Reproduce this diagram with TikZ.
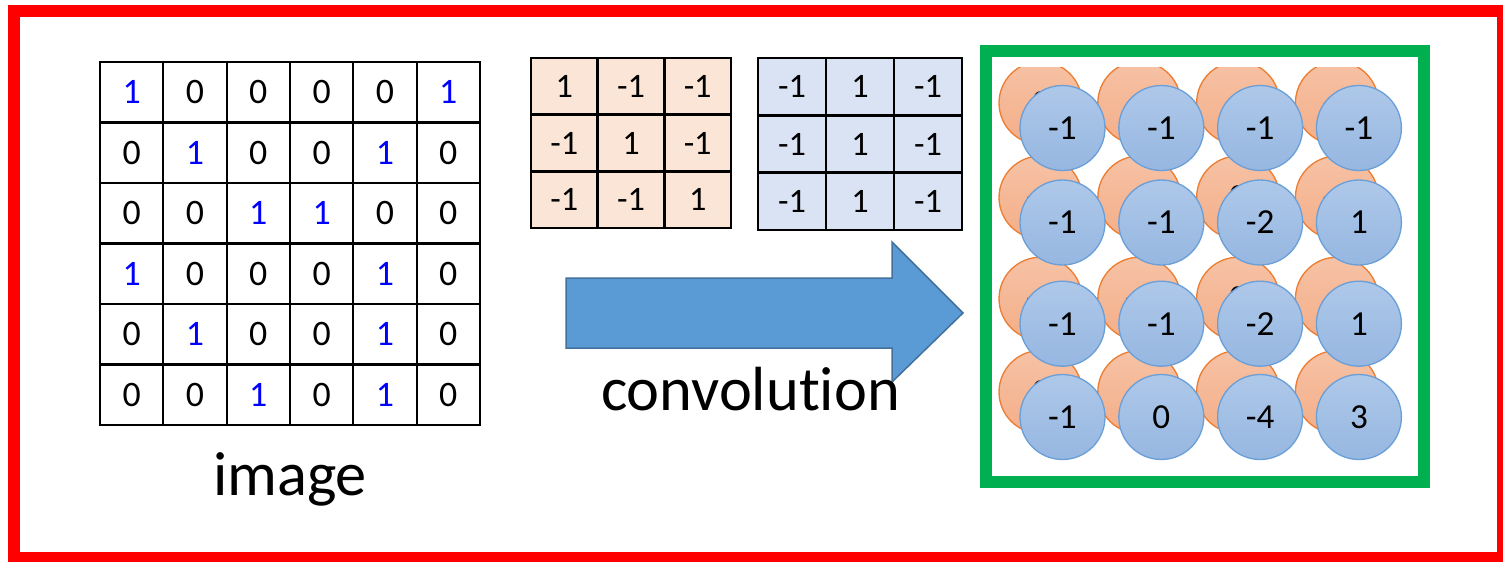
\documentclass[tikz,border=0pt]{standalone}
\usepackage{fontspec}
\setmainfont{Carlito}[Ligatures=NoCommon]

\definecolor{framered}{HTML}{FF0000}
\definecolor{framegreen}{HTML}{00B050}
\definecolor{filterA}{HTML}{FBE5D6}
\definecolor{filterB}{HTML}{DAE3F3}
\definecolor{arrowfill}{HTML}{5B9BD5}
\definecolor{arrowline}{HTML}{41719C}
\definecolor{orangetop}{HTML}{F6C2A5}
\definecolor{orangebot}{HTML}{F4AE88}
\definecolor{orangeline}{HTML}{ED7D31}
\definecolor{bluetop}{HTML}{AEC8E9}
\definecolor{bluebot}{HTML}{96B7E1}
\definecolor{blueline}{HTML}{6A9FD8}

\begin{document}
\begin{tikzpicture}[x=0.02cm, y=-0.02cm,
    imgcell/.style={draw, line width=1.3pt, minimum width=1.2667cm, minimum height=1.21cm,
        inner sep=0pt, outer sep=0pt, font=\fontsize{20.4}{24}\selectfont},
    filtcell/.style={draw, line width=1.6pt, inner sep=0pt, outer sep=0pt,
        font=\fontsize{19.5}{23}\selectfont},
    featA/.style={circle, draw=orangeline, line width=0.75pt, top color=orangetop,
        bottom color=orangebot, minimum size=1.66cm, inner sep=0pt,
        font=\fontsize{20}{24}\selectfont},
    featB/.style={circle, draw=blueline, line width=0.75pt, top color=bluetop,
        bottom color=bluebot, minimum size=1.7cm, inner sep=0pt,
        font=\fontsize{20}{24}\selectfont},
    biglabel/.style={font=\fontsize{35.5}{40}\selectfont, inner sep=0pt}]

    \useasboundingbox (0,0) rectangle (1503,561);

    % Draw the red frame
    \draw[framered, line width=0.24cm] (14,11) rectangle (1503,558);

    % Define the image grid size
    \def\imgw{63.33} % Width of each cell
    \def\imgh{60.5}  % Height of each cell

    % Draw the 6x6 image
    \foreach \row [count=\r] in {{1,0,0,0,0,1},{0,1,0,0,1,0},{0,0,1,1,0,0},
                                 {1,0,0,0,1,0},{0,1,0,0,1,0},{0,0,1,0,1,0}} {
        \foreach \v [count=\c] in \row {
            \def\digitcolor{black}
            \ifnum\v=1 \def\digitcolor{blue}\fi
            \node[imgcell, text=\digitcolor] (img-\r-\c)
                at ({100 + (\c - 0.5) * \imgw}, {62 + (\r - 0.5) * \imgh}) {\v};
        }
    }
    \node[biglabel, anchor=base] (imagelabel) at (290,495) {image};

    % Draw filter 1
    \foreach \row [count=\r] in {{1,-1,-1},{-1,1,-1},{-1,-1,1}} {
        \foreach \v [count=\c] in \row {
            \node[filtcell, fill=filterA, minimum width=1.3333cm, minimum height=1.1333cm] (fa-\r-\c)
                at ({531 + (\c - 0.5) * 66.67}, {58 + (\r - 0.5) * 56.67}) {\v};
        }
    }

    % Draw filter 2
    \foreach \row [count=\r] in {{-1,1,-1},{-1,1,-1},{-1,1,-1}} {
        \foreach \v [count=\c] in \row {
            \node[filtcell, fill=filterB, minimum width=1.36cm, minimum height=1.146cm] (fb-\r-\c)
                at ({758 + (\c - 0.5) * 68}, {58 + (\r - 0.5) * 57.33}) {\v};
        }
    }

    % Draw the block arrow
    \draw[arrowline, fill=arrowfill, line width=0.85pt, line join=miter]
        (566,278) -- (892,278) -- (892,242) -- (963,313) -- (892,382)
        -- (892,348) -- (566,348) -- cycle;
    \node[biglabel, anchor=base] (convlabel) at (750.5,410) {convolution};

    % Draw the green frame
    \draw[framegreen, line width=0.24cm] (986,51) rectangle (1424,482);

    % Feature map of filter 1 (behind)
    \begin{scope}
        \clip (980,67) rectangle (1430,480);
        \foreach \row/\by [count=\r] in {{3,-1,-3,-1}/128,{-3,1,0,-3}/222.5,
                                         {-3,-3,0,1}/323.7,{3,-2,-2,-1}/417} {
            \foreach \v [count=\c] in \row {
                \node[featA] (ma-\r-\c) at ({1040.5 + (\c - 1) * 98.8}, {\by - 25}) {\v};
            }
        }
    \end{scope}

    % Feature map of filter 2 (front)
    \foreach \row/\by [count=\r] in {{-1,-1,-1,-1}/128,{-1,-1,-2,1}/222.5,
                                     {-1,-1,-2,1}/323.7,{-1,0,-4,3}/417} {
        \foreach \v [count=\c] in \row {
            \node[featB] (mb-\r-\c) at ({1062.5 + (\c - 1) * 98.8}, \by) {\v};
        }
    }

\end{tikzpicture}
\end{document}
